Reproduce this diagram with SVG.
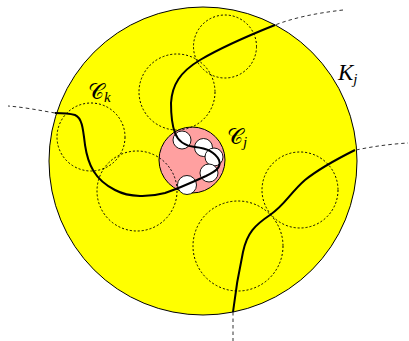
<svg xmlns="http://www.w3.org/2000/svg" width="409" height="341" viewBox="0 0 409 341">
<style>
.dot{fill:none;stroke:#000;stroke-width:1;stroke-dasharray:2,2}
.ext{fill:none;stroke:#333;stroke-width:1;stroke-dasharray:3.5,3}
.cur{fill:none;stroke:#000;stroke-width:2}
.hole{fill:#fff;stroke:#000;stroke-width:0.9}
.cal{font-family:"DejaVu Sans","DejaVu Serif",serif;font-style:normal;fill:#000}
.it{font-family:"Liberation Serif",serif;font-style:italic;fill:#000}
</style>
<rect width="409" height="341" fill="#fff"/>
<g id="Kj">
<circle cx="203" cy="161" r="154" fill="#ffff00" stroke="#000" stroke-width="1"/>
</g>
<g id="Cj">
<circle cx="192" cy="160" r="33" fill="#ffa0a0" stroke="#000" stroke-width="1"/>
<circle class="hole" cx="182" cy="140" r="9"/>
<circle class="hole" cx="203.5" cy="147.5" r="9"/>
<circle class="hole" cx="214" cy="157" r="9"/>
<circle class="hole" cx="209" cy="173" r="9"/>
<circle class="hole" cx="187" cy="185" r="9.5"/>
</g>
<g id="dotted">
<circle class="dot" cx="225" cy="46.5" r="31.5"/>
<circle class="dot" cx="177" cy="92" r="38"/>
<circle class="dot" cx="91" cy="137" r="34"/>
<circle class="dot" cx="137" cy="191" r="40"/>
<circle class="dot" cx="300" cy="190" r="38"/>
<circle class="dot" cx="238" cy="246" r="45"/>
</g>
<g id="connectors">
<path class="ext" d="M343,10 C318,13 296,17 275,25"/>
<path class="ext" d="M55,113 C38,110 22,107 8,106"/>
<path class="ext" d="M356,150 C375,146 392,144 408,143"/>
<path class="ext" d="M233,312 L233,341"/>
<path class="cur" d="M275,25 C250,35 222,47 200,60 C180,72 172,85 171,103 C171,115 172,125 175,133 C178,141 185,146 195,147 C205,148 215,152 219,160 C222,168 214,172 206,176 C195,181 180,188 165,193 C150,197 130,198 115,190 C95,180 88,165 85,145 C83,128 82,118 75,115 C68,113 60,113 55,113"/>
<path class="cur" d="M355,150 C335,160 320,168 305,180 C290,193 285,205 270,215 C255,225 247,233 243,252 C238,275 235,295 233,312"/>
</g>
<g id="labels">
<text x="88" y="99"><tspan class="cal" font-size="22">𝒞</tspan><tspan class="it" font-size="15" dy="3">k</tspan></text>
<text x="227" y="144"><tspan class="cal" font-size="22">𝒞</tspan><tspan class="it" font-size="15" dy="3">j</tspan></text>
<text x="338" y="80"><tspan class="it" font-size="23">K</tspan><tspan class="it" font-size="15" dy="4">j</tspan></text>
</g>
</svg>
